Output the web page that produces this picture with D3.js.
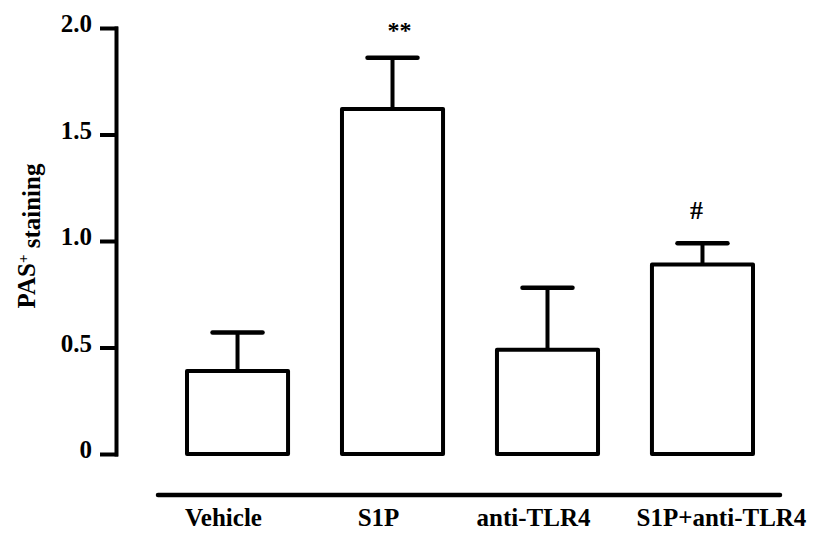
<!DOCTYPE html>
<head>
  <meta charset="utf-8">
  <script src="https://d3js.org/d3.v7.min.js"></script>
  <style>
    body { margin: 0; background: #fff; }
    text { font-family: "Liberation Serif", "Times New Roman", serif; font-weight: bold; fill: #000; }
  </style>
</head>
<body>
<div id="chart"></div>
<script>
// data
var groups = ["Vehicle", "S1P", "anti-TLR4", "S1P+anti-TLR4"];
var means = [0.39, 1.62, 0.49, 0.89];
var sem = [0.18, 0.24, 0.29, 0.10];
var marks = ["", "**", "", "#"];
var yTicks = [0, 0.5, 1.0, 1.5, 2.0];

var width = 828, height = 535;
var svg = d3.select("#chart").append("svg")
    .attr("width", width)
    .attr("height", height);

var x = d3.scaleBand()
    .domain(groups)
    .range([187, 753])
    .paddingInner(0.348)
    .paddingOuter(0);

var y = d3.scaleLinear()
    .domain([0, 2])
    .range([454, 28]);

// y axis
var yAxis = d3.axisLeft(y)
    .tickValues(yTicks)
    .tickSize(14)
    .tickSizeOuter(0)
    .tickPadding(10)
    .tickFormat(function(d) { return d === 0 ? "0" : d3.format(".1f")(d); });

var gy = svg.append("g")
    .attr("transform", "translate(116,0)")
    .call(yAxis);
gy.select(".domain").attr("stroke", "#000").attr("stroke-width", 4).attr("stroke-linecap", "square");
gy.selectAll(".tick line").attr("stroke", "#000").attr("stroke-width", 4).attr("stroke-linecap", "square");
gy.selectAll(".tick text")
    .style("font-family", "'Liberation Serif', serif")
    .style("font-weight", "bold")
    .style("font-size", "25px")
    .attr("dy", "0.15em");

// y label
svg.append("text")
    .attr("transform", "translate(35,236) rotate(-90)")
    .attr("text-anchor", "middle")
    .style("font-size", "25px")
    .text("PAS")
    .append("tspan")
    .attr("dy", "-0.5em")
    .style("font-size", "15px")
    .text("+")
    .append("tspan")
    .attr("dy", "0.5em")
    .style("font-size", "25px")
    .text(" staining");

// error bars
var err = svg.selectAll(".err")
    .data(groups)
    .enter()
    .append("g")
    .attr("class", "err");

err.append("line")
    .attr("x1", function(d) { return x(d) + x.bandwidth() / 2; })
    .attr("x2", function(d) { return x(d) + x.bandwidth() / 2; })
    .attr("y1", function(d, i) { return y(means[i]); })
    .attr("y2", function(d, i) { return y(means[i] + sem[i]); })
    .attr("stroke", "#000")
    .attr("stroke-width", 4);

err.append("line")
    .attr("x1", function(d) { return x(d) + x.bandwidth() / 2 - 25; })
    .attr("x2", function(d) { return x(d) + x.bandwidth() / 2 + 25; })
    .attr("y1", function(d, i) { return y(means[i] + sem[i]); })
    .attr("y2", function(d, i) { return y(means[i] + sem[i]); })
    .attr("stroke", "#000")
    .attr("stroke-width", 4.5)
    .attr("stroke-linecap", "round");

// bars
svg.selectAll(".bar")
    .data(groups)
    .enter()
    .append("rect")
    .attr("class", "bar")
    .attr("x", function(d) { return x(d); })
    .attr("width", x.bandwidth())
    .attr("y", function(d, i) { return y(means[i]); })
    .attr("height", function(d, i) { return y(0) - y(means[i]); })
    .attr("fill", "#fff")
    .attr("stroke", "#000")
    .attr("stroke-width", 4)
    .attr("stroke-linejoin", "round");

// significance marks
svg.selectAll(".sig")
    .data(groups)
    .enter()
    .append("text")
    .attr("class", "sig")
    .attr("x", function(d) { return x(d) + x.bandwidth() / 2 + (d === "S1P" ? 7 : -6); })
    .attr("y", function(d, i) { return y(means[i] + sem[i]) + (marks[i] === "#" ? -24 : -20); })
    .attr("text-anchor", "middle")
    .style("font-size", function(d, i) { return marks[i] === "#" ? "26px" : "24px"; })
    .text(function(d, i) { return marks[i]; });

// bottom line and group labels
svg.append("line")
    .attr("x1", 158)
    .attr("x2", 780)
    .attr("y1", 495)
    .attr("y2", 495)
    .attr("stroke", "#000")
    .attr("stroke-width", 4.5)
    .attr("stroke-linecap", "round");

svg.selectAll(".xlab")
    .data(groups)
    .enter()
    .append("text")
    .attr("class", "xlab")
    .attr("x", function(d, i) { return x(d) + x.bandwidth() / 2 + (i === 3 ? 19 : -14); })
    .attr("y", 526)
    .attr("text-anchor", "middle")
    .style("font-size", "25px")
    .text(function(d) { return d; });
</script>
</body>
</html>
